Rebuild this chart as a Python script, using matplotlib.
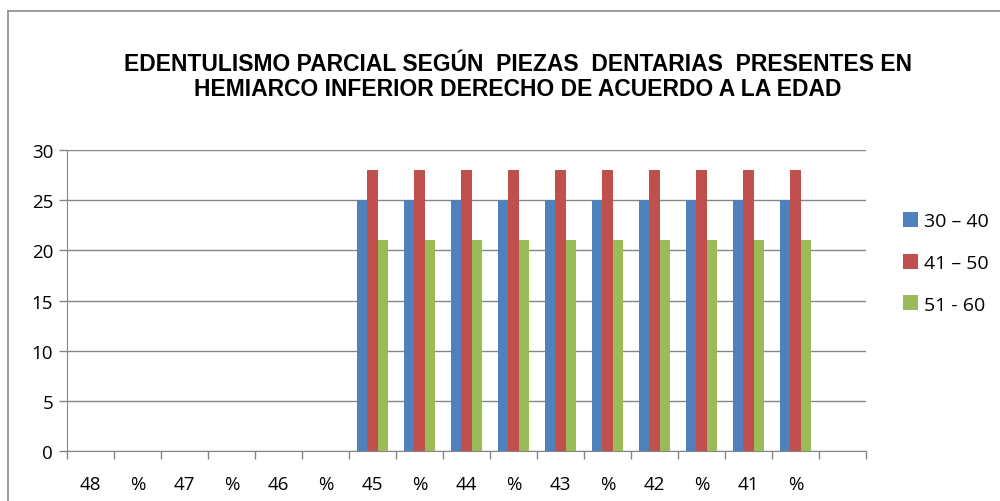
import numpy as np
import matplotlib
matplotlib.use('Agg')
import matplotlib.pyplot as plt
from matplotlib.lines import Line2D

# data
teeth = ['48', '%', '47', '%', '46', '%', '45', '%', '44', '%', '43', '%', '42', '%', '41', '%', '']
age_30_40 = [0, 0, 0, 0, 0, 0, 25, 25, 25, 25, 25, 25, 25, 25, 25, 25, 0]
age_41_50 = [0, 0, 0, 0, 0, 0, 28, 28, 28, 28, 28, 28, 28, 28, 28, 28, 0]
age_51_60 = [0, 0, 0, 0, 0, 0, 21, 21, 21, 21, 21, 21, 21, 21, 21, 21, 0]
labels = ['30 – 40', '41 – 50', '51 - 60']
colors = ['#4F81BD', '#C0504D', '#9BBB59']

fig = plt.figure(figsize=(10, 5.02), dpi=100)
ax = fig.add_axes([0.067, 0.0996, 0.799, 0.5996])

x = np.arange(len(teeth))
w = 0.224
for i, (vals, lab, c) in enumerate(zip([age_30_40, age_41_50, age_51_60], labels, colors)):
    ax.bar(x + (i - 1) * w, vals, width=w, color=c, label=lab, zorder=3)

ax.set_xlim(-0.5, len(teeth) - 0.5)
ax.set_ylim(0, 30)
ax.set_yticks(range(0, 31, 5))
ax.yaxis.grid(True, color='#868686', linewidth=1.0, zorder=0)

# category boundaries as ticks
ax.set_xticks(np.arange(-0.5, len(teeth), 1.0))
ax.set_xticklabels([])
ax.set_xticks(x, minor=True)
ax.set_xticklabels(teeth, minor=True, fontsize=13.5, family='Open Sans')
ax.tick_params(axis='x', which='minor', length=0, pad=17)
ax.tick_params(axis='x', which='major', length=6, color='#868686', width=1)
ax.tick_params(axis='y', length=6, color='#868686', width=1, pad=4)
for t in ax.get_yticklabels():
    t.set_fontsize(13.5)
    t.set_family('Open Sans')

for s in ['top', 'right']:
    ax.spines[s].set_visible(False)
ax.spines['left'].set_color('#868686')
ax.spines['bottom'].set_color('#868686')

fig.text(0.518, 0.846, 'EDENTULISMO PARCIAL SEGÚN  PIEZAS  DENTARIAS  PRESENTES EN\nHEMIARCO INFERIOR DERECHO DE ACUERDO A LA EDAD',
         ha='center', va='center', fontsize=16.5, fontweight='bold', family='Liberation Sans',
         linespacing=1.1)

leg = fig.legend(loc='upper left', bbox_to_anchor=(0.885, 0.61), frameon=False,
                 prop={'family': 'Open Sans', 'size': 14},
                 handlelength=0.8, handleheight=0.8, handletextpad=0.3, labelspacing=1.2)

# outer chart border (top and left only visible)
fig.add_artist(Line2D([0.008, 1.0], [1 - 12 / 502, 1 - 12 / 502], color='#8C8C8C', linewidth=1.2,
                      transform=fig.transFigure))
fig.add_artist(Line2D([0.008, 0.008], [0.0, 1 - 12 / 502], color='#8C8C8C', linewidth=1.2,
                      transform=fig.transFigure))

fig.savefig('out.png', dpi=100)
